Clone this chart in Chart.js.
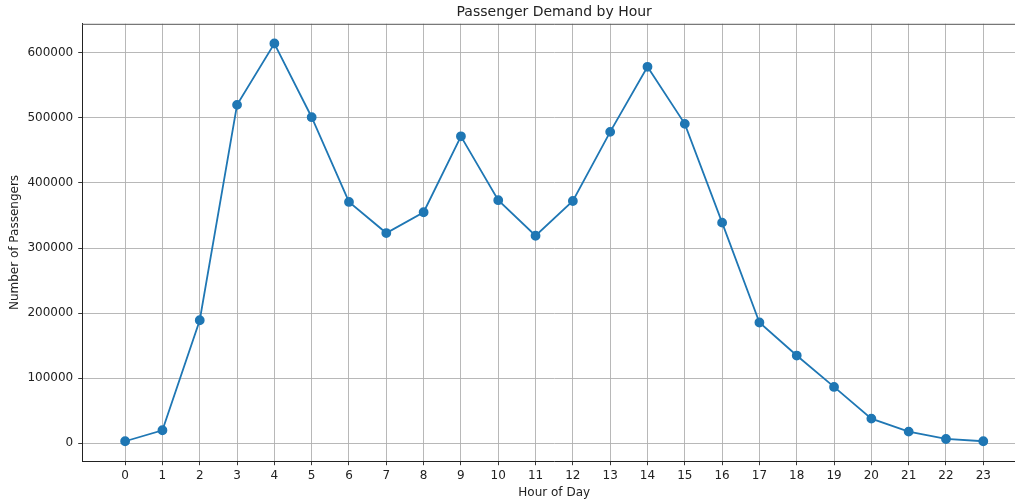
<!DOCTYPE html>
<html>
<head>
<meta charset="utf-8">
<script src="https://cdn.jsdelivr.net/npm/chart.js@4"></script>
<style>
    html, body { margin: 0; padding: 0; background: #fff; overflow: hidden; }
    #wrap { width: 1032px; height: 502px; position: relative; }
</style>
</head>
<body>
<div id="wrap"><canvas id="demandChart"></canvas></div>
<script>
// Dados
const hours = [0, 1, 2, 3, 4, 5, 6, 7, 8, 9, 10, 11, 12, 13, 14, 15, 16, 17, 18, 19, 20, 21, 22, 23];
const passengers = [3100, 20000, 189000, 520000, 614300, 501000, 370800, 323000, 355000, 471700, 373500,
    318900, 372300, 478500, 578500, 490800, 339000, 185600, 134800, 86600, 37900, 17900, 6600, 3100];
const yTicks = [0, 100000, 200000, 300000, 400000, 500000, 600000];

const mplBlue = '#1f77b4';
const gridColor = '#b0b0b0';
const textColor = '#222';

Chart.defaults.font.family = "'DejaVu Sans', sans-serif";
Chart.defaults.color = textColor;

// Borda superior da área do gráfico (spine)
const topSpine = {
    id: 'topSpine',
    afterDraw(chart) {
        const { ctx, chartArea } = chart;
        ctx.save();
        ctx.strokeStyle = '#555';
        ctx.lineWidth = 1;
        ctx.beginPath();
        ctx.moveTo(chartArea.left, chartArea.top + 0.5);
        ctx.lineTo(chartArea.right, chartArea.top + 0.5);
        ctx.stroke();
        ctx.restore();
    }
};

function initDemandChart() {
    const ctx = document.getElementById('demandChart');
    if (!ctx) return;

    new Chart(ctx.getContext('2d'), {
        type: 'line',
        data: {
            datasets: [{
                label: 'Passengers',
                data: hours.map((h, i) => ({ x: h, y: passengers[i] })),
                borderColor: mplBlue,
                backgroundColor: mplBlue,
                borderWidth: 1.8,
                pointRadius: 4,
                pointHoverRadius: 4,
                tension: 0
            }]
        },
        options: {
            responsive: true,
            maintainAspectRatio: false,
            animation: false,
            layout: { padding: { left: 8, right: 0, top: 0, bottom: 2 } },
            plugins: {
                legend: { display: false },
                tooltip: { enabled: false },
                title: {
                    display: true,
                    fullSize: false,
                    text: 'Passenger Demand by Hour',
                    font: { size: 14, weight: 'normal' },
                    color: textColor,
                    padding: { top: 4, bottom: 3 }
                }
            },
            scales: {
                x: {
                    type: 'linear',
                    min: -1.15,
                    max: 24.15,
                    afterBuildTicks: axis => { axis.ticks = hours.map(v => ({ value: v })); },
                    ticks: { font: { size: 12 }, color: textColor, padding: 3 },
                    grid: { color: gridColor, lineWidth: 0.9, tickColor: '#222', tickLength: 4 },
                    border: { color: '#222', width: 1 },
                    title: { display: true, text: 'Hour of Day', font: { size: 12 }, color: textColor, padding: { top: 0, bottom: 0 } }
                },
                y: {
                    min: -27550,
                    max: 644550,
                    afterBuildTicks: axis => { axis.ticks = yTicks.map(v => ({ value: v })); },
                    ticks: { font: { size: 12 }, color: textColor, padding: 5, callback: v => String(v) },
                    grid: { color: gridColor, lineWidth: 0.9, tickColor: '#222', tickLength: 4 },
                    border: { color: '#222', width: 1 },
                    title: { display: true, text: 'Number of Passengers', font: { size: 12 }, color: textColor, padding: { top: 0, bottom: 0 } }
                }
            }
        },
        plugins: [topSpine]
    });
}

initDemandChart();
</script>
</body>
</html>
